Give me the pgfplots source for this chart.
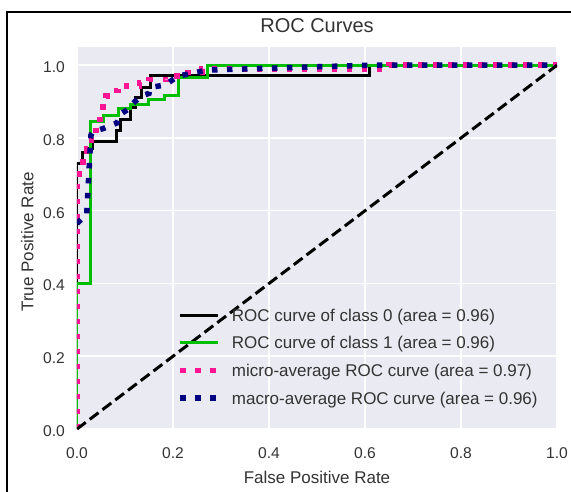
\documentclass[border=0pt]{standalone}
\usepackage{fontspec}
\setmainfont{Liberation Sans}
\usepackage{pgfplots}
\pgfplotsset{compat=1.18}

\definecolor{bgc}{HTML}{EAEAF2}
\definecolor{txt}{HTML}{333333}
\definecolor{clsone}{RGB}{0,190,0}
\definecolor{micro}{HTML}{FF1493}
\definecolor{macro}{HTML}{000080}

\pgfplotsset{
  dotline/.style={line width=5.5pt, dash pattern=on 5.5pt off 9.5pt},
}

\begin{document}
\begin{tikzpicture}
\useasboundingbox (-77pt,-62pt) rectangle (494pt,429pt);
% frame of the screenshot (top and left only)
\draw[line width=2.3pt] (-69.8pt,-70pt) -- (-69.8pt,416.8pt) -- (500pt,416.8pt);

\begin{axis}[
  scale only axis,
  width=480pt, height=382pt,
  xmin=0, xmax=1, ymin=0, ymax=1.05,
  axis background/.style={fill=bgc},
  axis line style={draw=none},
  major tick length=0pt,
  grid=major,
  grid style={white, line width=1.5pt},
  xtick={0,0.2,0.4,0.6,0.8,1},
  ytick={0,0.2,0.4,0.6,0.8,1},
  xticklabel={\pgfmathprintnumber[fixed,fixed zerofill,precision=1,assume math mode=true]{\tick}},
  yticklabel={\pgfmathprintnumber[fixed,fixed zerofill,precision=1,assume math mode=true]{\tick}},
  xticklabel style={anchor=base, yshift=-29pt, text=txt, font=\fontsize{15.6}{18}\selectfont},
  yticklabel style={anchor=east, inner sep=0pt, xshift=-12pt, yshift=-2pt, text=txt, font=\fontsize{15.6}{18}\selectfont},
  title={ROC Curves},
  title style={at={(axis description cs:0.5,1.0228)}, anchor=base, text=txt, font=\fontsize{20}{24}\selectfont},
  xlabel={False Positive Rate},
  ylabel={True Positive Rate},
  xlabel style={at={(axis description cs:0.5,-0.1421)}, anchor=base, text=txt, font=\fontsize{17}{20}\selectfont},
  ylabel style={at={(axis description cs:-0.091,0.49)}, anchor=base, text=txt, font=\fontsize{17}{20}\selectfont},
  legend cell align=left,
  legend image code/.code={\draw[#1] (0pt,0pt) -- (38pt,0pt);},
  legend style={draw=none, fill=none, inner sep=0pt,
    at={(axis description cs:0.2089,0.0644)}, anchor=south west,
    font=\fontsize{17}{20}\selectfont, text=txt,
    row sep=15.5pt, column sep=11pt,
    nodes={inner sep=0pt, anchor=west, text height=12.2pt, text depth=0pt}},
  no markers,
]

% class 0
\addplot[black, line width=3pt] coordinates {
  (0,0) (0,0.73) (0.012,0.73) (0.012,0.76) (0.02,0.76) (0.02,0.77)
  (0.033,0.77) (0.033,0.79) (0.083,0.79) (0.083,0.82) (0.09,0.82)
  (0.09,0.85) (0.111,0.85) (0.111,0.885) (0.121,0.885) (0.121,0.91)
  (0.135,0.91) (0.135,0.94) (0.153,0.94) (0.153,0.973) (0.61,0.973)
  (0.61,1) (1,1)
};
\addlegendentry{ROC curve of class 0 (area = 0.96)}

% class 1
\addplot[clsone, line width=3pt] coordinates {
  (0,0) (0,0.40) (0.029,0.40) (0.029,0.845) (0.055,0.845) (0.055,0.862)
  (0.086,0.862) (0.086,0.88) (0.112,0.88) (0.112,0.891) (0.15,0.891)
  (0.15,0.905) (0.183,0.905) (0.183,0.918) (0.211,0.918) (0.211,0.967)
  (0.271,0.967) (0.271,1) (1,1)
};
\addlegendentry{ROC curve of class 1 (area = 0.96)}

% micro-average
\addplot[micro, dotline] coordinates {
  (0,0) (0,0.70) (0.005,0.70) (0.005,0.725) (0.012,0.725) (0.012,0.745)
  (0.02,0.745) (0.02,0.77) (0.03,0.77) (0.03,0.80) (0.04,0.80) (0.04,0.83)
  (0.048,0.83) (0.048,0.86) (0.054,0.86) (0.054,0.895) (0.06,0.895)
  (0.06,0.915) (0.068,0.915) (0.068,0.93) (0.085,0.93) (0.085,0.943)
  (0.13,0.943) (0.13,0.952) (0.15,0.952) (0.15,0.96) (0.19,0.96)
  (0.19,0.97) (0.23,0.97) (0.23,0.98) (0.26,0.98) (0.26,0.99)
  (0.65,0.99) (0.65,1) (1,1)
};
\addlegendentry{micro-average ROC curve (area = 0.97)}

% macro-average
\addplot[macro, dotline] coordinates {
  (0,0.565) (0.012,0.58) (0.02,0.585) (0.029,0.8075) (0.033,0.8175)
  (0.055,0.826) (0.083,0.841) (0.086,0.85) (0.09,0.865) (0.111,0.8825)
  (0.112,0.888) (0.121,0.9005) (0.135,0.9155) (0.15,0.9225) (0.153,0.939)
  (0.183,0.9455) (0.211,0.97) (0.271,0.9865) (0.61,1) (1,1)
};
\addlegendentry{macro-average ROC curve (area = 0.96)}

% chance line
\addplot[black, line width=3pt, dash pattern=on 11pt off 5pt, forget plot] coordinates {
  (0,0) (1,1)
};
\end{axis}
\end{tikzpicture}
\end{document}
